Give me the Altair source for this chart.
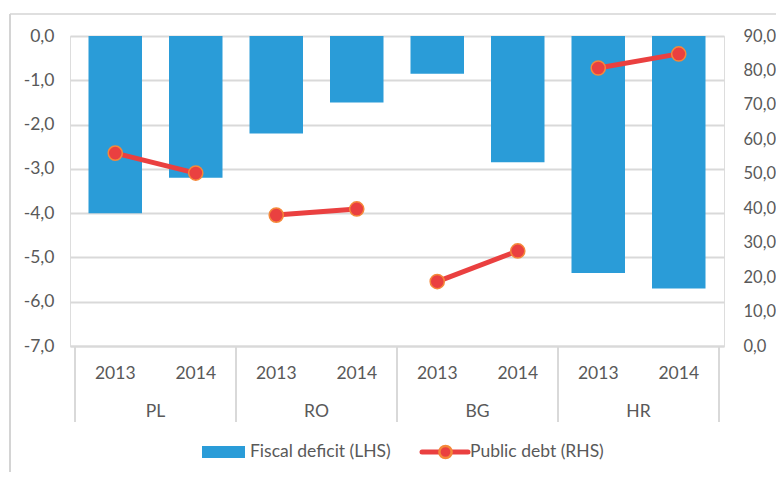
import altair as alt
import pandas as pd

countries = ["PL", "RO", "BG", "HR"]
years = ["2013", "2014"]
fiscal_deficit = [-4.0, -3.2, -2.2, -1.5, -0.85, -2.85, -5.35, -5.7]
public_debt = [56.0, 50.2, 38.0, 39.8, 18.7, 27.6, 80.7, 84.8]
left_ticks = [0, -1, -2, -3, -4, -5, -6, -7]
right_ticks = [0, 10, 20, 30, 40, 50, 60, 70, 80, 90]

rows = []
i = 0
for c in countries:
    for y in years:
        rows.append({"country": c, "year": y, "idx": i,
                     "deficit": fiscal_deficit[i], "debt": public_debt[i]})
        i += 1
df = pd.DataFrame(rows)
groups = pd.DataFrame({"country": countries, "g": list(range(len(countries)))})
bounds = pd.DataFrame({"b": [2 * k for k in range(len(countries) + 1)]})
one = pd.DataFrame({"k": [0]})

FONT = "Lato"
FS = 17.5
GREY = "#595959"
BLUE = "#2A9CD8"
RED = "#EA4040"
N = len(df)
xs = alt.Scale(domain=[0, N], nice=False, zero=False)
fmt = "replace(replace(format(datum.value, '.1f'), '.', ','), '\u2212', '-')"

base = alt.Chart(df).transform_calculate(pos="datum.idx + 0.5")

frame_top = alt.Chart(one).mark_rule(color="#d4d4d4", strokeWidth=1.5).encode(
    x=alt.value(-60), x2=alt.value(730), y=alt.value(-22))
frame_left = alt.Chart(one).mark_rule(color="#d4d4d4", strokeWidth=2).encode(
    x=alt.value(-60), y=alt.value(-22), y2=alt.value(470))

bars = base.mark_bar(size=53.5, color=BLUE).encode(
    x=alt.X("pos:Q", scale=xs,
            axis=alt.Axis(labels=False, ticks=False, grid=False, title=None,
                          domainColor="#d9d9d9", domainWidth=2)),
    y=alt.Y("deficit:Q", scale=alt.Scale(domain=[-7, 0], nice=False),
            axis=alt.Axis(values=left_ticks, labelExpr=fmt, title=None,
                          domain=False, ticks=False, grid=True,
                          gridColor="#d9d9d9", gridWidth=2,
                          labelPadding=16, labelFont=FONT, labelFontSize=FS,
                          labelColor=GREY)),
)

debt_scale = alt.Scale(domain=[0, 90], nice=False)
line = base.mark_line(color=RED, strokeWidth=5).encode(
    x=alt.X("pos:Q", scale=xs),
    y=alt.Y("debt:Q", scale=debt_scale,
            axis=alt.Axis(orient="right", values=right_ticks, labelExpr=fmt,
                          title=None, domain=False, ticks=False, grid=False,
                          labelPadding=19, labelFont=FONT, labelFontSize=16.5,
                          labelColor=GREY)),
    detail="country:N",
)
points = base.mark_point(filled=True, fill=RED, stroke="#F5883A", strokeWidth=1.5,
                         size=200, opacity=1, shape="circle").encode(
    x=alt.X("pos:Q", scale=xs),
    y=alt.Y("debt:Q", scale=debt_scale, axis=None),
)

seps = alt.Chart(bounds).mark_rule(color="#d9d9d9", strokeWidth=2).encode(
    x=alt.X("b:Q", scale=xs), y=alt.value(310), y2=alt.value(386))

year_text = base.mark_text(font=FONT, fontSize=FS, color=GREY, baseline="middle").encode(
    x=alt.X("pos:Q", scale=xs), y=alt.value(338), text="year:N")

country_text = alt.Chart(groups).transform_calculate(gc="datum.g * 2 + 1").mark_text(
    font=FONT, fontSize=FS, color=GREY, baseline="middle").encode(
    x=alt.X("gc:Q", scale=xs), y=alt.value(376), text="country:N")

leg_rect = alt.Chart(one).mark_rect(color=BLUE).encode(
    x=alt.value(132), x2=alt.value(175), y=alt.value(410), y2=alt.value(422))
leg_text1 = alt.Chart(one).mark_text(font=FONT, fontSize=FS, color=GREY, align="left",
                                     baseline="middle", text="Fiscal deficit (LHS)").encode(
    x=alt.value(180), y=alt.value(416))
leg_line = alt.Chart(one).mark_rule(color=RED, strokeWidth=5, strokeCap="round").encode(
    x=alt.value(352), x2=alt.value(398), y=alt.value(416))
leg_pt = alt.Chart(one).mark_point(filled=True, fill=RED, stroke="#F5883A", strokeWidth=2.5,
                                   size=150, opacity=1, shape="circle").encode(
    x=alt.value(375.5), y=alt.value(416))
leg_text2 = alt.Chart(one).mark_text(font=FONT, fontSize=FS, color=GREY, align="left",
                                     baseline="middle", text="Public debt (RHS)").encode(
    x=alt.value(400), y=alt.value(416))

chart = alt.layer(
    frame_top, frame_left, bars, line, points, seps, year_text, country_text,
    leg_rect, leg_text1, leg_line, leg_pt, leg_text2,
).resolve_scale(y="independent").properties(
    width=654, height=310,
    autosize=alt.AutoSizeParams(type="none"),
    padding={"left": 62, "top": 28, "right": 52, "bottom": 126},
).configure_view(stroke=None).configure(background="white")

chart.save("out.html", embed_options={"renderer": "svg", "actions": False})
